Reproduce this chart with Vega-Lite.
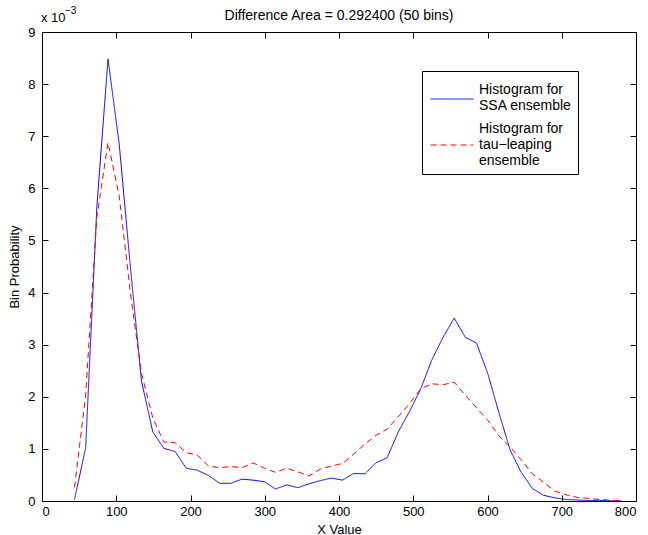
{
  "$schema": "https://vega.github.io/schema/vega-lite/v6.json",
  "width": 594,
  "height": 469,
  "autosize": {"type": "none"},
  "padding": {"left": 42, "top": 32, "right": 12, "bottom": 34},
  "background": "white",
  "title": {"text": "Difference Area = 0.292400 (50 bins)", "font": "Liberation Sans", "fontSize": 14, "fontWeight": "normal", "color": "black", "anchor": "middle", "offset": -17},
  "config": {
    "view": {"stroke": "black", "strokeWidth": 1},
    "font": "Liberation Sans",
    "axis": {"grid": false, "domain": false, "tickColor": "black", "tickWidth": 1, "tickSize": -6, "labelColor": "black", "labelFont": "Liberation Sans", "labelFontSize": 13, "titleFont": "Liberation Sans", "titleFontSize": 13, "titleFontWeight": "normal", "titleColor": "black"}
  },
  "resolve": {"axis": {"x": "independent", "y": "independent"}},
  "datasets": {
    "hist": [
      {"x": 43.8, "series": "SSA", "p": 0.00003},
      {"x": 58.8, "series": "SSA", "p": 0.00102},
      {"x": 73.9, "series": "SSA", "p": 0.00565},
      {"x": 88.9, "series": "SSA", "p": 0.00848},
      {"x": 104.0, "series": "SSA", "p": 0.00685},
      {"x": 119.0, "series": "SSA", "p": 0.0045},
      {"x": 134.0, "series": "SSA", "p": 0.0023},
      {"x": 149.1, "series": "SSA", "p": 0.00133},
      {"x": 164.1, "series": "SSA", "p": 0.00101},
      {"x": 179.2, "series": "SSA", "p": 0.00095},
      {"x": 194.2, "series": "SSA", "p": 0.00063},
      {"x": 209.2, "series": "SSA", "p": 0.00059},
      {"x": 224.3, "series": "SSA", "p": 0.00049},
      {"x": 239.3, "series": "SSA", "p": 0.00034},
      {"x": 254.4, "series": "SSA", "p": 0.00034},
      {"x": 269.4, "series": "SSA", "p": 0.00042},
      {"x": 284.4, "series": "SSA", "p": 0.0004},
      {"x": 299.5, "series": "SSA", "p": 0.00037},
      {"x": 314.5, "series": "SSA", "p": 0.00023},
      {"x": 329.6, "series": "SSA", "p": 0.00031},
      {"x": 344.6, "series": "SSA", "p": 0.000255},
      {"x": 359.6, "series": "SSA", "p": 0.00033},
      {"x": 374.7, "series": "SSA", "p": 0.00039},
      {"x": 389.7, "series": "SSA", "p": 0.00044},
      {"x": 404.8, "series": "SSA", "p": 0.0004},
      {"x": 419.8, "series": "SSA", "p": 0.00053},
      {"x": 434.8, "series": "SSA", "p": 0.00052},
      {"x": 449.9, "series": "SSA", "p": 0.000735},
      {"x": 464.9, "series": "SSA", "p": 0.00083},
      {"x": 480.0, "series": "SSA", "p": 0.00133},
      {"x": 495.0, "series": "SSA", "p": 0.00172},
      {"x": 510.0, "series": "SSA", "p": 0.00215},
      {"x": 525.1, "series": "SSA", "p": 0.00271},
      {"x": 540.1, "series": "SSA", "p": 0.00314},
      {"x": 555.2, "series": "SSA", "p": 0.00351},
      {"x": 570.2, "series": "SSA", "p": 0.00314},
      {"x": 585.2, "series": "SSA", "p": 0.00303},
      {"x": 600.3, "series": "SSA", "p": 0.00245},
      {"x": 615.3, "series": "SSA", "p": 0.0017},
      {"x": 630.4, "series": "SSA", "p": 0.00098},
      {"x": 645.4, "series": "SSA", "p": 0.00055},
      {"x": 660.4, "series": "SSA", "p": 0.00024},
      {"x": 675.5, "series": "SSA", "p": 0.00011},
      {"x": 690.5, "series": "SSA", "p": 0.00006},
      {"x": 705.6, "series": "SSA", "p": 0.00003},
      {"x": 720.6, "series": "SSA", "p": 0.00002},
      {"x": 735.6, "series": "SSA", "p": 0.00001},
      {"x": 750.7, "series": "SSA", "p": 0.00001},
      {"x": 765.7, "series": "SSA", "p": 0.000005},
      {"x": 780.8, "series": "SSA", "p": 0.000003},
      {"x": 43.8, "series": "tau", "p": 0.00026},
      {"x": 58.8, "series": "tau", "p": 0.00203},
      {"x": 73.9, "series": "tau", "p": 0.00545},
      {"x": 88.9, "series": "tau", "p": 0.00688},
      {"x": 104.0, "series": "tau", "p": 0.00585},
      {"x": 119.0, "series": "tau", "p": 0.004},
      {"x": 134.0, "series": "tau", "p": 0.00245},
      {"x": 149.1, "series": "tau", "p": 0.0016},
      {"x": 164.1, "series": "tau", "p": 0.00113},
      {"x": 179.2, "series": "tau", "p": 0.00112},
      {"x": 194.2, "series": "tau", "p": 0.00093},
      {"x": 209.2, "series": "tau", "p": 0.00088},
      {"x": 224.3, "series": "tau", "p": 0.00067},
      {"x": 239.3, "series": "tau", "p": 0.00064},
      {"x": 254.4, "series": "tau", "p": 0.00066},
      {"x": 269.4, "series": "tau", "p": 0.00064},
      {"x": 284.4, "series": "tau", "p": 0.00073},
      {"x": 299.5, "series": "tau", "p": 0.00063},
      {"x": 314.5, "series": "tau", "p": 0.00055},
      {"x": 329.6, "series": "tau", "p": 0.00063},
      {"x": 344.6, "series": "tau", "p": 0.00056},
      {"x": 359.6, "series": "tau", "p": 0.00048},
      {"x": 374.7, "series": "tau", "p": 0.00061},
      {"x": 389.7, "series": "tau", "p": 0.00067},
      {"x": 404.8, "series": "tau", "p": 0.00072},
      {"x": 419.8, "series": "tau", "p": 0.0009},
      {"x": 434.8, "series": "tau", "p": 0.00109},
      {"x": 449.9, "series": "tau", "p": 0.00126},
      {"x": 464.9, "series": "tau", "p": 0.00138},
      {"x": 480.0, "series": "tau", "p": 0.00162},
      {"x": 495.0, "series": "tau", "p": 0.00187},
      {"x": 510.0, "series": "tau", "p": 0.00215},
      {"x": 525.1, "series": "tau", "p": 0.00225},
      {"x": 540.1, "series": "tau", "p": 0.00223},
      {"x": 555.2, "series": "tau", "p": 0.00228},
      {"x": 570.2, "series": "tau", "p": 0.00203},
      {"x": 585.2, "series": "tau", "p": 0.00179},
      {"x": 600.3, "series": "tau", "p": 0.00155},
      {"x": 615.3, "series": "tau", "p": 0.00125},
      {"x": 630.4, "series": "tau", "p": 0.00104},
      {"x": 645.4, "series": "tau", "p": 0.00079},
      {"x": 660.4, "series": "tau", "p": 0.00052},
      {"x": 675.5, "series": "tau", "p": 0.00036},
      {"x": 690.5, "series": "tau", "p": 0.00019},
      {"x": 705.6, "series": "tau", "p": 0.00012},
      {"x": 720.6, "series": "tau", "p": 0.00007},
      {"x": 735.6, "series": "tau", "p": 0.00005},
      {"x": 750.7, "series": "tau", "p": 0.00003},
      {"x": 765.7, "series": "tau", "p": 0.000015},
      {"x": 780.8, "series": "tau", "p": 0.000005}
    ]
  },
  "layer": [
    {
      "data": {"name": "hist"},
      "mark": {"type": "line", "strokeWidth": 1},
      "encoding": {
        "x": {"field": "x", "type": "quantitative", "scale": {"domain": [0, 800], "nice": false, "zero": false},
              "axis": {"orient": "bottom", "values": [0, 100, 200, 300, 400, 500, 600, 700, 800], "title": "X Value", "labelPadding": 10, "titlePadding": 5}},
        "y": {"field": "p", "type": "quantitative", "scale": {"domain": [0, 0.009], "nice": false},
              "axis": {"orient": "left", "values": [0, 0.001, 0.002, 0.003, 0.004, 0.005, 0.006, 0.007, 0.008, 0.009], "labelExpr": "format(datum.value * 1000, 'd')", "title": "Bin Probability", "labelPadding": 13, "titlePadding": 6}},
        "color": {"field": "series", "type": "nominal",
                  "scale": {"domain": ["SSA", "tau"], "range": ["#0000ff", "#ff0000"]},
                  "legend": {"orient": "none", "legendX": 380, "legendY": 39, "title": null, "strokeColor": "black", "fillColor": "white", "padding": 6, "symbolOffset": 2, "symbolType": "stroke", "symbolSize": 1849, "symbolStrokeWidth": 1, "labelFont": "Liberation Sans", "labelFontSize": 14, "labelColor": "black", "labelOffset": 5, "rowPadding": 9,
                             "labelExpr": "datum.value == 'SSA' ? ['Histogram for', 'SSA ensemble'] : ['Histogram for', 'tau\u2212leaping', 'ensemble']",
                             "encode": {"labels": {"update": {"dy": {"signal": "datum.value == 'SSA' ? -9 : -16"}}}}}},
        "strokeDash": {"field": "series", "type": "nominal",
                       "scale": {"domain": ["SSA", "tau"], "range": [[1, 0], [6, 4]]},
                       "legend": {"orient": "none", "legendX": 380, "legendY": 39, "title": null, "strokeColor": "black", "fillColor": "white", "padding": 6, "symbolOffset": 2, "symbolType": "stroke", "symbolSize": 1849, "symbolStrokeWidth": 1, "labelFont": "Liberation Sans", "labelFontSize": 14, "labelColor": "black", "labelOffset": 5, "rowPadding": 9,
                             "labelExpr": "datum.value == 'SSA' ? ['Histogram for', 'SSA ensemble'] : ['Histogram for', 'tau\u2212leaping', 'ensemble']",
                             "encode": {"labels": {"update": {"dy": {"signal": "datum.value == 'SSA' ? -9 : -16"}}}}}}
      }
    },
    {
      "data": {"name": "hist"},
      "mark": {"type": "point", "opacity": 0},
      "encoding": {
        "x": {"field": "x", "type": "quantitative", "axis": {"orient": "top", "values": [0, 100, 200, 300, 400, 500, 600, 700, 800], "labels": false, "title": null, "minExtent": 0, "maxExtent": 0}},
        "y": {"field": "p", "type": "quantitative", "axis": {"orient": "right", "values": [0, 0.001, 0.002, 0.003, 0.004, 0.005, 0.006, 0.007, 0.008, 0.009], "labels": false, "title": null, "minExtent": 0, "maxExtent": 0}}
      }
    },
    {
      "data": {"values": [{"label": "x 10"}]},
      "mark": {"type": "text", "align": "left", "baseline": "alphabetic", "font": "Liberation Sans", "fontSize": 13, "color": "black", "dx": -1, "dy": -10},
      "encoding": {"x": {"datum": 0, "type": "quantitative", "axis": null}, "y": {"datum": 0.009, "type": "quantitative", "axis": null}, "text": {"field": "label"}}
    },
    {
      "data": {"values": [{"label": "\u22123"}]},
      "mark": {"type": "text", "align": "left", "baseline": "alphabetic", "font": "Liberation Sans", "fontSize": 10, "color": "black", "dx": 23, "dy": -18},
      "encoding": {"x": {"datum": 0, "type": "quantitative", "axis": null}, "y": {"datum": 0.009, "type": "quantitative", "axis": null}, "text": {"field": "label"}}
    }
  ]
}
